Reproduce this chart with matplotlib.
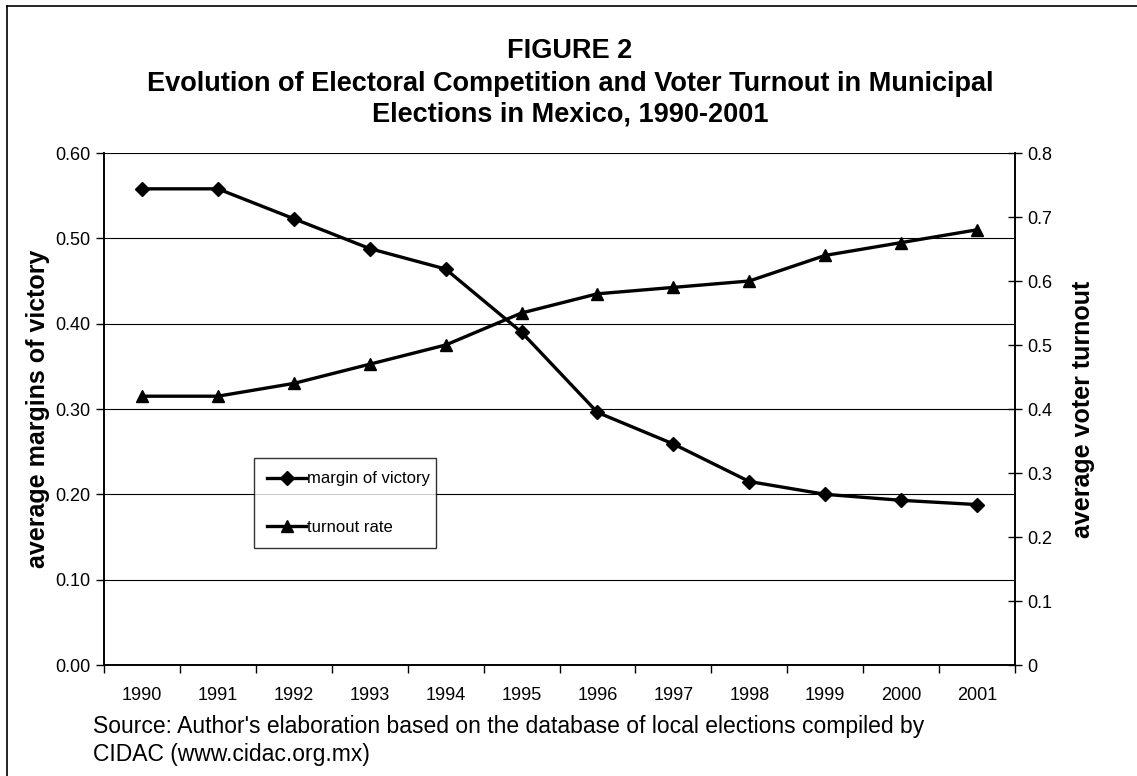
import numpy as np
import matplotlib
matplotlib.use("Agg")
from matplotlib import pyplot as plt
from matplotlib.lines import Line2D

plt.rcParams['font.family'] = ['Liberation Sans', 'DejaVu Sans']

years = ['1990', '1991', '1992', '1993', '1994', '1995', '1996',
         '1997', '1998', '1999', '2000', '2001']
margin = [0.558, 0.558, 0.523, 0.488, 0.464, 0.390, 0.296,
          0.259, 0.215, 0.200, 0.193, 0.188]
turnout = [0.42, 0.42, 0.44, 0.47, 0.50, 0.55, 0.58,
           0.59, 0.60, 0.64, 0.66, 0.68]

W, H = 1137, 776
fig = plt.figure(figsize=(W / 100, H / 100), dpi=100)

# outer frame (only left and top edges visible in the original)
fig.add_artist(Line2D([7 / W, 7 / W], [0, 1 - 6 / H], color='black', lw=1.2))
fig.add_artist(Line2D([7 / W, 1], [1 - 6 / H, 1 - 6 / H], color='black', lw=1.2))

ax = fig.add_axes([104 / W, 1 - 665 / H, (1015 - 104) / W, (665 - 153) / H])
ax2 = ax.twinx()

x = np.arange(len(years))
l1, = ax.plot(x, margin, color='black', lw=2.4, marker='D', markersize=7,
              label='margin of victory', zorder=3)
l2, = ax2.plot(x, turnout, color='black', lw=2.4, marker='^', markersize=9,
               label='turnout rate', zorder=3)

ax.set_xlim(-0.5, len(years) - 0.5)
ax.set_ylim(0, 0.6)
ax2.set_ylim(0, 0.8)

ax.set_yticks(np.arange(0, 0.61, 0.1))
ax.set_yticklabels(['%.2f' % v for v in np.arange(0, 0.61, 0.1)])
ax2.set_yticks(np.arange(0, 0.81, 0.1))
ax2.set_yticklabels(['0'] + ['%.1f' % v for v in np.arange(0.1, 0.81, 0.1)])

ax.set_xticks(x)
ax.set_xticklabels(years)
ax.set_xticks(np.arange(-0.5, len(years), 1), minor=True)
ax.tick_params(axis='x', which='major', length=0, labelsize=13, pad=16)
ax.tick_params(axis='x', which='minor', length=6, width=1, direction='out')
ax.tick_params(axis='y', labelsize=13, length=6, width=1, direction='out')
ax2.tick_params(axis='y', labelsize=13, length=10, width=1, direction='inout')

ax.grid(axis='y', color='black', lw=0.8)
ax.set_axisbelow(True)
for a in (ax, ax2):
    a.spines['top'].set_visible(False)
    for s in ('left', 'right', 'bottom'):
        a.spines[s].set_linewidth(1.2)

ax.set_ylabel('average margins of victory', fontsize=18, fontweight='bold', labelpad=4)
ax2.set_ylabel('average voter turnout', fontsize=18, fontweight='bold', labelpad=14)

leg = ax2.legend(handles=[l1, l2], loc='lower left',
                 bbox_to_anchor=(150 / 911, 117 / 512, 182 / 911, 89 / 512),
                 mode='expand', borderaxespad=0, fontsize=12, frameon=True,
                 fancybox=False, edgecolor='black', handlelength=2.3,
                 handletextpad=0.1, labelspacing=2.0, borderpad=0.8)
leg.get_frame().set_linewidth(1.0)

fig.text(570 / W, 1 - 51 / H, 'FIGURE 2', ha='center', va='center',
         fontsize=19.5, fontweight='bold')
fig.text(570 / W, 1 - 84 / H,
         'Evolution of Electoral Competition and Voter Turnout in Municipal',
         ha='center', va='center', fontsize=19.5, fontweight='bold')
fig.text(570 / W, 1 - 114 / H, 'Elections in Mexico, 1990-2001',
         ha='center', va='center', fontsize=19.5, fontweight='bold')

fig.text(93 / W, 1 - 727 / H,
         "Source: Author's elaboration based on the database of local elections compiled by",
         ha='left', va='center', fontsize=16.5)
fig.text(93 / W, 1 - 755 / H, 'CIDAC (www.cidac.org.mx)',
         ha='left', va='center', fontsize=16.5)

fig.savefig('out.png', dpi=100)
